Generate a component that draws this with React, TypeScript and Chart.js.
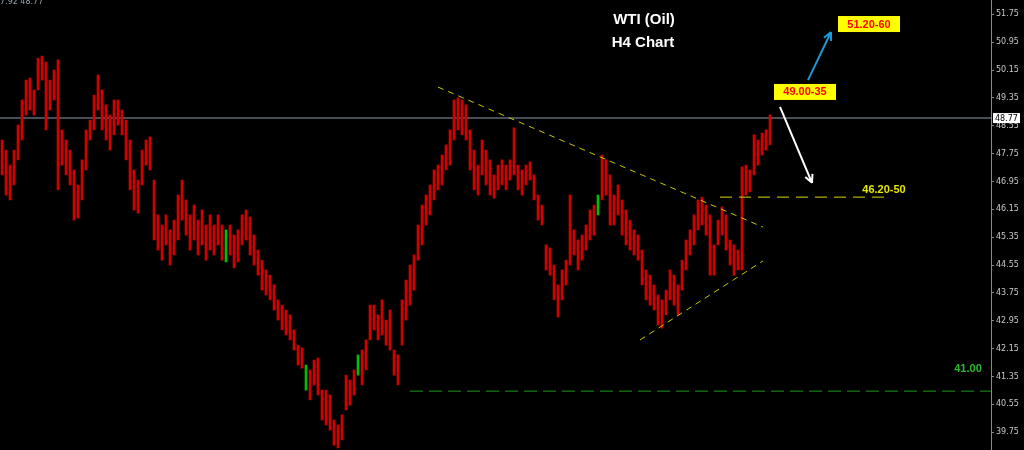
import React, { useEffect, useRef } from "react";
import { Chart, registerables } from "chart.js";

Chart.register(...registerables);

// Candle ranges (high / low) for each H4 bar
const highs = [
  48.14, 47.85, 47.42, 47.85, 48.57, 49.29, 49.86, 49.92, 49.58, 50.49,
  50.55, 50.38, 49.86, 50.15, 50.44, 48.43, 48.14, 47.85, 47.28, 46.85,
  47.57, 48.43, 48.71, 49.43, 50.01, 49.58, 49.15, 48.86, 49.29, 49.29,
  49.0, 48.71, 48.14, 47.28, 46.99, 47.85, 48.14, 48.23, 46.99, 45.99,
  45.7, 45.99, 45.56, 45.84, 46.56, 46.99, 46.42, 45.99, 46.27, 45.84,
  46.13, 45.7, 45.99, 45.7, 45.99, 45.7, 45.56, 45.7, 45.41, 45.56,
  45.99, 46.13, 45.93, 45.41, 44.98, 44.69, 44.41, 44.26, 43.98, 43.55,
  43.4, 43.26, 43.12, 42.69, 42.25, 42.17, 41.68, 41.54, 41.82, 41.88,
  40.96, 40.96, 40.82, 40.1, 39.96, 40.25, 41.39, 41.25, 41.54, 41.97,
  42.11, 42.4, 43.4, 43.4, 43.12, 43.55, 42.97, 43.26, 42.11, 41.97,
  43.55, 44.12, 44.55, 44.84, 45.7, 46.27, 46.56, 46.85, 47.28, 47.42,
  47.71, 48.0, 48.43, 49.29, 49.35, 49.29, 49.15, 48.43, 47.85, 47.42,
  48.14, 47.85, 47.57, 47.14, 47.42, 47.57, 47.42, 47.57, 48.49, 47.42,
  47.28, 47.42, 47.51, 47.14, 46.56, 46.27, 45.13, 45.04, 44.55, 43.98,
  44.41, 44.69, 46.56, 45.56, 45.27, 45.41, 45.7, 46.13, 46.27, 46.56,
  47.71, 47.57, 47.14, 46.56, 46.85, 46.42, 46.13, 45.84, 45.56, 45.41,
  44.98, 44.41, 44.26, 43.98, 43.69, 43.55, 43.83, 44.41, 44.26, 43.98,
  44.69, 45.27, 45.56, 45.99, 46.42, 46.5, 46.27, 45.99, 45.13, 45.84,
  46.22, 45.99, 45.27, 45.13, 44.98, 47.37, 47.42, 47.28, 48.29, 48.14,
  48.34, 48.43, 48.86,
];
const lows = [
  47.14, 46.56, 46.42, 46.85, 47.57, 48.14, 48.86, 49.0, 48.86, 49.58,
  49.86, 48.43, 49.0, 49.29, 46.71, 47.42, 47.14, 46.85, 45.84, 45.9,
  46.42, 47.28, 48.14, 48.43, 49.0, 48.43, 48.14, 47.85, 48.29, 48.57,
  48.29, 47.57, 46.71, 46.13, 46.04, 46.85, 47.42, 47.28, 45.27, 44.98,
  44.69, 45.13, 44.55, 44.84, 45.27, 45.84, 45.41, 44.98, 45.27, 44.84,
  45.13, 44.69, 44.98, 44.84, 45.13, 44.69, 44.64, 44.84, 44.47, 44.64,
  45.13, 45.27, 44.84, 44.55, 44.26, 43.83, 43.69, 43.55, 43.26, 42.97,
  42.69, 42.54, 42.4, 42.11, 41.68, 41.59, 40.96, 40.68, 41.11, 40.82,
  40.1, 39.96, 39.81, 39.38, 39.3, 39.53, 40.39, 40.53, 40.82, 41.39,
  41.11, 41.54, 42.4, 42.69, 42.4, 42.54, 42.25, 42.11, 41.39, 41.11,
  42.25, 42.97, 43.4, 43.83, 44.69, 45.13, 45.7, 45.99, 46.42, 46.71,
  46.85, 47.28, 47.42, 48.14, 48.43, 48.29, 48.14, 47.28, 46.71, 46.56,
  47.14, 46.85, 46.56, 46.47, 46.71, 46.85, 46.71, 46.99, 47.14, 46.71,
  46.56, 46.85, 46.99, 46.42, 45.84, 45.7, 44.41, 44.26, 43.55, 43.06,
  43.55, 43.98, 44.55, 44.84, 44.41, 44.69, 44.98, 45.27, 45.41, 45.99,
  46.42, 46.56, 45.7, 45.7, 45.99, 45.41, 45.13, 44.98, 44.84, 44.69,
  43.98, 43.55, 43.4, 43.26, 42.83, 42.74, 43.12, 43.55, 43.4, 43.12,
  43.83, 44.41, 44.84, 45.13, 45.56, 45.7, 45.41, 44.26, 44.26, 45.13,
  45.41, 44.98, 44.55, 44.26, 44.41, 44.41, 46.56, 46.65, 47.14, 47.42,
  47.71, 47.85, 48.0,
];
const greenBars = [56, 76, 89, 149];

// Axis ticks
const yTicks = [39.75, 40.55, 41.35, 42.15, 42.95, 43.75, 44.55, 45.35, 46.15, 46.95, 47.75, 48.55, 49.35, 50.15, 50.95, 51.75];
const yMin = 39.24;
const yMax = 52.16;
const xMin = -0.5;
const xMax = 247.25;

const lastPrice = 48.77;
const titleLines = ["WTI (Oil)", "H4 Chart"];

// Drawn studies: [x1, price1, x2, price2]
const resistanceLine = [109, 49.66, 190.25, 45.64];
const supportLine = [159.5, 42.4, 190.25, 44.67];
const zoneLine = [179.5, 46.5, 220.75, 46.5];
const floorLine = [102, 40.93, 247.25, 40.93];
const downArrow = [194.5, 49.09, 202.5, 46.91];
const upArrow = [201.5, 49.86, 207.25, 51.24];
const boxLabels = [
  { text: "49.00-35", x: 200.75, price: 49.52 },
  { text: "51.20-60", x: 216.75, price: 51.47 },
];
const zoneLabel = { text: "46.20-50", x: 220.5, price: 46.7 };
const floorLabel = { text: "41.00", x: 241.5, price: 41.57 };

const overlayPlugin = {
  id: "overlay",
  beforeDatasetsDraw(chart: any) {
    const { ctx, scales, chartArea } = chart;
    const y = scales.y.getPixelForValue(lastPrice);
    ctx.save();
    ctx.strokeStyle = "#5e6874";
    ctx.lineWidth = 1.5;
    ctx.beginPath();
    ctx.moveTo(chartArea.left, y);
    ctx.lineTo(chartArea.right, y);
    ctx.stroke();
    ctx.restore();
  },
  afterDatasetsDraw(chart: any) {
    const { ctx, scales, chartArea } = chart;
    const px = (v: number) => scales.x.getPixelForValue(v);
    const py = (v: number) => scales.y.getPixelForValue(v);
    ctx.save();

    const line = (l: number[], color: string, dash: number[], w = 1) => {
      ctx.strokeStyle = color;
      ctx.lineWidth = w;
      ctx.setLineDash(dash);
      ctx.beginPath();
      ctx.moveTo(px(l[0]), py(l[1]));
      ctx.lineTo(px(l[2]), py(l[3]));
      ctx.stroke();
      ctx.setLineDash([]);
    };
    line(resistanceLine, "#c8c800", [6, 5]);
    line(supportLine, "#c8c800", [6, 5]);
    line(zoneLine, "#d8d800", [12, 7]);
    line(floorLine, "#1f9a1f", [13, 6]);

    const arrow = (a: number[], color: string) => {
      const x1 = px(a[0]), y1 = py(a[1]), x2 = px(a[2]), y2 = py(a[3]);
      ctx.strokeStyle = color;
      ctx.lineWidth = 2;
      ctx.beginPath();
      ctx.moveTo(x1, y1);
      ctx.lineTo(x2, y2);
      const ang = Math.atan2(y2 - y1, x2 - x1);
      const hl = 9;
      ctx.moveTo(x2, y2);
      ctx.lineTo(x2 - hl * Math.cos(ang - 0.45), y2 - hl * Math.sin(ang - 0.45));
      ctx.moveTo(x2, y2);
      ctx.lineTo(x2 - hl * Math.cos(ang + 0.45), y2 - hl * Math.sin(ang + 0.45));
      ctx.stroke();
    };
    arrow(downArrow, "#ffffff");
    arrow(upArrow, "#1a9ad6");

    ctx.textAlign = "center";
    ctx.textBaseline = "middle";
    ctx.font = "bold 11px 'Liberation Sans', Arial, sans-serif";
    boxLabels.forEach((b) => {
      const cx = px(b.x), cy = py(b.price);
      ctx.fillStyle = "#ffff00";
      ctx.fillRect(cx - 31, cy - 8, 62, 16);
      ctx.fillStyle = "#ff0000";
      ctx.fillText(b.text, cx, cy + 0.5);
    });
    ctx.fillStyle = "#e6e600";
    ctx.fillText(zoneLabel.text, px(zoneLabel.x), py(zoneLabel.price));
    ctx.fillStyle = "#2db82d";
    ctx.fillText(floorLabel.text, px(floorLabel.x), py(floorLabel.price));

    ctx.fillStyle = "#ffffff";
    ctx.font = "bold 15px 'Liberation Sans', Arial, sans-serif";
    ctx.fillText(titleLines[0], 644, 20);
    ctx.fillText(titleLines[1], 643, 43);

    ctx.font = "8px 'DejaVu Sans', sans-serif";
    ctx.textAlign = "left";
    ctx.fillStyle = "#9aa4ae";
    ctx.fillText("7.92 48.77", 0, 2);

    // last price tag
    const ly = py(lastPrice);
    ctx.fillStyle = "#ffffff";
    ctx.fillRect(chartArea.right + 2, ly - 5, 27, 10);
    ctx.fillStyle = "#000000";
    ctx.font = "8px 'DejaVu Sans', sans-serif";
    ctx.fillText(lastPrice.toFixed(2), chartArea.right + 4, ly + 0.5);
    ctx.restore();
  },
};

export default function App() {
  const ref = useRef<HTMLCanvasElement | null>(null);
  useEffect(() => {
    if (!ref.current) return;
    const data = highs.map((h, i) => ({ x: i, y: [lows[i], h] }));
    const chart = new Chart(ref.current, {
      type: "bar",
      data: {
        datasets: [
          {
            data: data as any,
            backgroundColor: (c: any) => (greenBars.includes(c.dataIndex) ? "#00c000" : "#d20000"),
            barThickness: 2,
            borderWidth: 0,
          },
        ],
      },
      options: {
        responsive: false,
        animation: false,
        events: [],
        layout: { padding: 0 },
        plugins: { legend: { display: false }, tooltip: { enabled: false } },
        scales: {
          x: { type: "linear", display: false, min: xMin, max: xMax, offset: false },
          y: {
            position: "right",
            min: yMin,
            max: yMax,
            afterBuildTicks: (s: any) => {
              s.ticks = yTicks.map((v) => ({ value: v }));
            },
            afterFit: (s: any) => {
              s.width = 33;
              s.paddingTop = 0;
              s.paddingBottom = 0;
            },
            border: { display: true, color: "#8a8a8a", width: 1 },
            grid: { drawOnChartArea: false, drawTicks: true, tickLength: 3, color: "#8a8a8a" },
            ticks: {
              color: "#c8c8c8",
              padding: 2,
              font: { size: 8, family: "'DejaVu Sans', sans-serif" },
              callback: (v: any) => Number(v).toFixed(2),
            },
          },
        },
      },
      plugins: [overlayPlugin],
    });
    return () => chart.destroy();
  }, []);
  return (
    <div style={{ position: "fixed", left: 0, top: 0, width: 1024, height: 450, background: "#000" }}>
      <canvas ref={ref} width={1024} height={450} />
    </div>
  );
}
